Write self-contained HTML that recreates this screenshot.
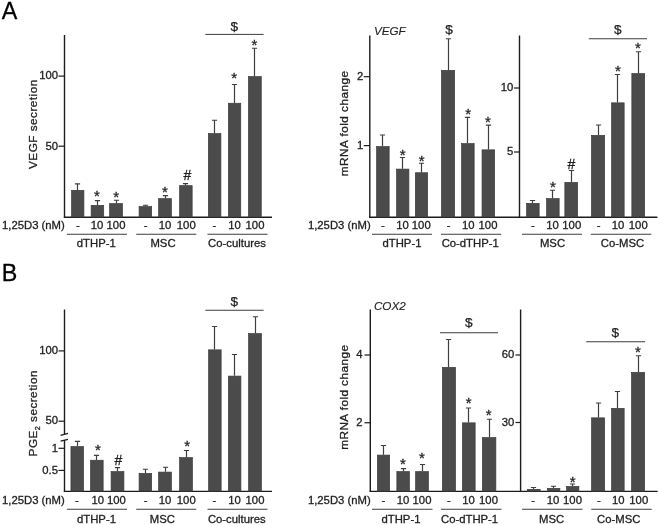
<!DOCTYPE html>
<html><head><meta charset="utf-8"><title>Figure</title>
<style>
html,body{margin:0;padding:0;background:#fff;}
body{width:660px;height:525px;overflow:hidden;}
svg{display:block;will-change:transform;filter:grayscale(1);}
svg text{font-family:"Liberation Sans",sans-serif;fill:#222;stroke:#222;stroke-width:0.3px;}
</style></head><body>
<svg width="660" height="525" viewBox="0 0 660 525">
<rect width="660" height="525" fill="#fff"/>
<text x="1.85" y="18.70" font-size="23.3" text-anchor="start" style="fill:#000;stroke:#000">A</text>
<text x="1.80" y="281.40" font-size="23.3" text-anchor="start" style="fill:#000;stroke:#000">B</text>
<line x1="64.50" y1="35.00" x2="64.50" y2="217.90" stroke="#1c1c1c" stroke-width="1.4"/>
<line x1="63.85" y1="217.25" x2="272.00" y2="217.25" stroke="#1c1c1c" stroke-width="1.4"/>
<line x1="58.50" y1="76.10" x2="64.50" y2="76.10" stroke="#1c1c1c" stroke-width="1.2"/>
<text x="58.00" y="79.30" font-size="11.3" text-anchor="end" >100</text>
<line x1="58.50" y1="146.20" x2="64.50" y2="146.20" stroke="#1c1c1c" stroke-width="1.2"/>
<text x="58.00" y="149.50" font-size="11.3" text-anchor="end" >50</text>
<rect x="71.60" y="190.35" width="12.30" height="26.70" fill="#4b4b4b" stroke="#3b3b3b" stroke-width="0.7"/>
<path d="M77.50 190.00V183.90M74.90 183.90H80.10" stroke="#3e3e3e" stroke-width="1.2" fill="none"/>
<rect x="91.15" y="205.35" width="12.55" height="11.70" fill="#4b4b4b" stroke="#3b3b3b" stroke-width="0.7"/>
<path d="M97.50 205.00V200.60M94.90 200.60H100.10" stroke="#3e3e3e" stroke-width="1.2" fill="none"/>
<rect x="109.65" y="203.60" width="12.75" height="13.45" fill="#4b4b4b" stroke="#3b3b3b" stroke-width="0.7"/>
<path d="M116.50 203.25V200.25M113.90 200.25H119.10" stroke="#3e3e3e" stroke-width="1.2" fill="none"/>
<rect x="139.10" y="206.60" width="12.55" height="10.45" fill="#4b4b4b" stroke="#3b3b3b" stroke-width="0.7"/>
<path d="M145.50 206.25V205.25M142.90 205.25H148.10" stroke="#3e3e3e" stroke-width="1.2" fill="none"/>
<rect x="158.60" y="198.65" width="12.80" height="18.40" fill="#4b4b4b" stroke="#3b3b3b" stroke-width="0.7"/>
<path d="M165.50 198.30V195.60M162.90 195.60H168.10" stroke="#3e3e3e" stroke-width="1.2" fill="none"/>
<rect x="179.60" y="185.65" width="12.55" height="31.40" fill="#4b4b4b" stroke="#3b3b3b" stroke-width="0.7"/>
<path d="M185.50 185.30V183.60M182.90 183.60H188.10" stroke="#3e3e3e" stroke-width="1.2" fill="none"/>
<rect x="208.35" y="133.60" width="12.55" height="83.45" fill="#4b4b4b" stroke="#3b3b3b" stroke-width="0.7"/>
<path d="M214.50 133.25V120.25M211.90 120.25H217.10" stroke="#3e3e3e" stroke-width="1.2" fill="none"/>
<rect x="228.35" y="103.25" width="12.40" height="113.80" fill="#4b4b4b" stroke="#3b3b3b" stroke-width="0.7"/>
<path d="M234.50 102.90V84.50M231.90 84.50H237.10" stroke="#3e3e3e" stroke-width="1.2" fill="none"/>
<rect x="248.45" y="76.60" width="12.80" height="140.45" fill="#4b4b4b" stroke="#3b3b3b" stroke-width="0.7"/>
<path d="M254.50 76.25V48.25M251.90 48.25H257.10" stroke="#3e3e3e" stroke-width="1.2" fill="none"/>
<text x="97.00" y="201.42" font-size="15" text-anchor="middle" style="stroke-width:0.28px">*</text>
<text x="116.25" y="201.52" font-size="15" text-anchor="middle" style="stroke-width:0.28px">*</text>
<text x="165.00" y="196.92" font-size="15" text-anchor="middle" style="stroke-width:0.28px">*</text>
<text x="187.50" y="179.88" font-size="14" text-anchor="middle" style="stroke-width:0.3px">#</text>
<text x="234.05" y="83.42" font-size="15" text-anchor="middle" style="stroke-width:0.28px">*</text>
<text x="254.50" y="49.52" font-size="15" text-anchor="middle" style="stroke-width:0.28px">*</text>
<text x="234.20" y="31.06" font-size="13.6" text-anchor="middle" style="stroke-width:0.25px">$</text>
<line x1="205.30" y1="34.40" x2="263.60" y2="34.40" stroke="#3c3c3c" stroke-width="1.0"/>
<text transform="translate(36.7,124.13) rotate(-90)" font-size="11.8" text-anchor="middle" letter-spacing="0.463">VEGF secretion</text>
<text x="2.00" y="229.30" font-size="11.3" text-anchor="start" >1,25D3 (nM)</text>
<text x="307.90" y="229.30" font-size="11.3" text-anchor="start" >1,25D3 (nM)</text>
<text x="78.00" y="229.30" font-size="11.3" text-anchor="middle" >-</text>
<text x="97.00" y="229.30" font-size="11.3" text-anchor="middle" >10</text>
<text x="116.00" y="229.30" font-size="11.3" text-anchor="middle" >100</text>
<text x="145.75" y="229.30" font-size="11.3" text-anchor="middle" >-</text>
<text x="165.00" y="229.30" font-size="11.3" text-anchor="middle" >10</text>
<text x="186.25" y="229.30" font-size="11.3" text-anchor="middle" >100</text>
<text x="214.50" y="229.30" font-size="11.3" text-anchor="middle" >-</text>
<text x="234.50" y="229.30" font-size="11.3" text-anchor="middle" >10</text>
<text x="255.00" y="229.30" font-size="11.3" text-anchor="middle" >100</text>
<line x1="67.00" y1="234.25" x2="127.00" y2="234.25" stroke="#3c3c3c" stroke-width="1.0"/>
<line x1="136.25" y1="234.25" x2="196.25" y2="234.25" stroke="#3c3c3c" stroke-width="1.0"/>
<line x1="207.50" y1="234.25" x2="267.50" y2="234.25" stroke="#3c3c3c" stroke-width="1.0"/>
<text x="96.30" y="247.40" font-size="11.3" text-anchor="middle" >dTHP-1</text>
<text x="163.00" y="247.40" font-size="11.3" text-anchor="middle" >MSC</text>
<text x="237.00" y="247.40" font-size="11.3" text-anchor="middle" >Co-cultures</text>
<line x1="369.80" y1="35.50" x2="369.80" y2="217.90" stroke="#1c1c1c" stroke-width="1.4"/>
<line x1="369.10" y1="217.25" x2="657.40" y2="217.25" stroke="#1c1c1c" stroke-width="1.4"/>
<line x1="519.50" y1="35.50" x2="519.50" y2="217.90" stroke="#1c1c1c" stroke-width="1.4"/>
<line x1="363.75" y1="76.70" x2="369.80" y2="76.70" stroke="#1c1c1c" stroke-width="1.2"/>
<text x="363.40" y="80.20" font-size="11.3" text-anchor="end" >2</text>
<line x1="363.75" y1="145.60" x2="369.80" y2="145.60" stroke="#1c1c1c" stroke-width="1.2"/>
<text x="363.40" y="149.30" font-size="11.3" text-anchor="end" >1</text>
<line x1="514.00" y1="88.00" x2="519.50" y2="88.00" stroke="#1c1c1c" stroke-width="1.2"/>
<text x="513.40" y="90.60" font-size="11.3" text-anchor="end" >10</text>
<line x1="514.00" y1="152.00" x2="519.50" y2="152.00" stroke="#1c1c1c" stroke-width="1.2"/>
<text x="513.40" y="154.70" font-size="11.3" text-anchor="end" >5</text>
<text x="373.90" y="35.20" font-size="11.7" text-anchor="start" font-style="italic" style="stroke-width:0.12px">VEGF</text>
<rect x="376.60" y="146.60" width="12.55" height="70.45" fill="#4b4b4b" stroke="#3b3b3b" stroke-width="0.7"/>
<path d="M382.50 146.25V135.00M379.90 135.00H385.10" stroke="#3e3e3e" stroke-width="1.2" fill="none"/>
<rect x="396.60" y="169.10" width="12.30" height="47.95" fill="#4b4b4b" stroke="#3b3b3b" stroke-width="0.7"/>
<path d="M402.50 168.75V157.50M399.90 157.50H405.10" stroke="#3e3e3e" stroke-width="1.2" fill="none"/>
<rect x="415.35" y="172.75" width="12.30" height="44.30" fill="#4b4b4b" stroke="#3b3b3b" stroke-width="0.7"/>
<path d="M421.50 172.40V163.25M418.90 163.25H424.10" stroke="#3e3e3e" stroke-width="1.2" fill="none"/>
<rect x="441.45" y="70.35" width="13.20" height="146.70" fill="#4b4b4b" stroke="#3b3b3b" stroke-width="0.7"/>
<path d="M448.50 70.00V38.75M445.90 38.75H451.10" stroke="#3e3e3e" stroke-width="1.2" fill="none"/>
<rect x="461.60" y="143.60" width="12.55" height="73.45" fill="#4b4b4b" stroke="#3b3b3b" stroke-width="0.7"/>
<path d="M467.50 143.25V117.40M464.90 117.40H470.10" stroke="#3e3e3e" stroke-width="1.2" fill="none"/>
<rect x="482.05" y="149.85" width="12.60" height="67.20" fill="#4b4b4b" stroke="#3b3b3b" stroke-width="0.7"/>
<path d="M488.50 149.50V125.20M485.90 125.20H491.10" stroke="#3e3e3e" stroke-width="1.2" fill="none"/>
<rect x="526.60" y="203.35" width="12.55" height="13.70" fill="#4b4b4b" stroke="#3b3b3b" stroke-width="0.7"/>
<path d="M532.50 203.00V200.50M529.90 200.50H535.10" stroke="#3e3e3e" stroke-width="1.2" fill="none"/>
<rect x="546.60" y="198.60" width="12.55" height="18.45" fill="#4b4b4b" stroke="#3b3b3b" stroke-width="0.7"/>
<path d="M552.50 198.25V190.25M549.90 190.25H555.10" stroke="#3e3e3e" stroke-width="1.2" fill="none"/>
<rect x="564.85" y="182.35" width="12.80" height="34.70" fill="#4b4b4b" stroke="#3b3b3b" stroke-width="0.7"/>
<path d="M571.50 182.00V170.50M568.90 170.50H574.10" stroke="#3e3e3e" stroke-width="1.2" fill="none"/>
<rect x="591.45" y="135.35" width="13.20" height="81.70" fill="#4b4b4b" stroke="#3b3b3b" stroke-width="0.7"/>
<path d="M598.50 135.00V125.00M595.90 125.00H601.10" stroke="#3e3e3e" stroke-width="1.2" fill="none"/>
<rect x="611.60" y="102.85" width="12.55" height="114.20" fill="#4b4b4b" stroke="#3b3b3b" stroke-width="0.7"/>
<path d="M617.50 102.50V74.50M614.90 74.50H620.10" stroke="#3e3e3e" stroke-width="1.2" fill="none"/>
<rect x="631.85" y="73.60" width="12.80" height="143.45" fill="#4b4b4b" stroke="#3b3b3b" stroke-width="0.7"/>
<path d="M638.50 73.25V51.75M635.90 51.75H641.10" stroke="#3e3e3e" stroke-width="1.2" fill="none"/>
<text transform="translate(348.2,123.33) rotate(-90)" font-size="11.8" text-anchor="middle" letter-spacing="0.461">mRNA fold change</text>
<text x="383.00" y="229.30" font-size="11.3" text-anchor="middle" >-</text>
<text x="402.50" y="229.30" font-size="11.3" text-anchor="middle" >10</text>
<text x="421.25" y="229.30" font-size="11.3" text-anchor="middle" >100</text>
<text x="448.75" y="229.30" font-size="11.3" text-anchor="middle" >-</text>
<text x="468.25" y="229.30" font-size="11.3" text-anchor="middle" >10</text>
<text x="488.00" y="229.30" font-size="11.3" text-anchor="middle" >100</text>
<text x="533.00" y="229.30" font-size="11.3" text-anchor="middle" >-</text>
<text x="552.50" y="229.30" font-size="11.3" text-anchor="middle" >10</text>
<text x="571.75" y="229.30" font-size="11.3" text-anchor="middle" >100</text>
<text x="598.75" y="229.30" font-size="11.3" text-anchor="middle" >-</text>
<text x="618.00" y="229.30" font-size="11.3" text-anchor="middle" >10</text>
<text x="638.25" y="229.30" font-size="11.3" text-anchor="middle" >100</text>
<line x1="372.00" y1="234.25" x2="432.00" y2="234.25" stroke="#3c3c3c" stroke-width="1.0"/>
<line x1="441.00" y1="234.25" x2="501.25" y2="234.25" stroke="#3c3c3c" stroke-width="1.0"/>
<line x1="522.00" y1="234.25" x2="582.00" y2="234.25" stroke="#3c3c3c" stroke-width="1.0"/>
<line x1="590.75" y1="234.25" x2="651.25" y2="234.25" stroke="#3c3c3c" stroke-width="1.0"/>
<text x="402.00" y="247.40" font-size="11.3" text-anchor="middle" >dTHP-1</text>
<text x="470.20" y="247.40" font-size="11.3" text-anchor="middle" >Co-dTHP-1</text>
<text x="552.50" y="247.40" font-size="11.3" text-anchor="middle" >MSC</text>
<text x="622.50" y="247.40" font-size="11.3" text-anchor="middle" >Co-MSC</text>
<text x="449.00" y="33.96" font-size="13.6" text-anchor="middle" style="stroke-width:0.25px">$</text>
<text x="617.75" y="34.26" font-size="13.6" text-anchor="middle" style="stroke-width:0.25px">$</text>
<line x1="588.75" y1="38.75" x2="647.00" y2="38.75" stroke="#3c3c3c" stroke-width="1.0"/>
<text x="402.70" y="159.62" font-size="15" text-anchor="middle" style="stroke-width:0.28px">*</text>
<text x="421.70" y="165.72" font-size="15" text-anchor="middle" style="stroke-width:0.28px">*</text>
<text x="468.05" y="119.22" font-size="15" text-anchor="middle" style="stroke-width:0.28px">*</text>
<text x="487.90" y="127.42" font-size="15" text-anchor="middle" style="stroke-width:0.28px">*</text>
<text x="553.00" y="192.32" font-size="15" text-anchor="middle" style="stroke-width:0.28px">*</text>
<text x="571.50" y="169.08" font-size="14" text-anchor="middle" style="stroke-width:0.3px">#</text>
<text x="617.80" y="75.72" font-size="15" text-anchor="middle" style="stroke-width:0.28px">*</text>
<text x="637.90" y="53.22" font-size="15" text-anchor="middle" style="stroke-width:0.28px">*</text>
<line x1="64.50" y1="309.50" x2="64.50" y2="434.50" stroke="#1c1c1c" stroke-width="1.4"/>
<line x1="64.50" y1="440.00" x2="64.50" y2="492.05" stroke="#1c1c1c" stroke-width="1.4"/>
<line x1="60.60" y1="435.30" x2="68.00" y2="433.40" stroke="#1c1c1c" stroke-width="1.2"/>
<line x1="60.60" y1="441.20" x2="68.00" y2="439.30" stroke="#1c1c1c" stroke-width="1.2"/>
<line x1="63.85" y1="491.40" x2="272.00" y2="491.40" stroke="#1c1c1c" stroke-width="1.4"/>
<line x1="58.50" y1="350.90" x2="64.50" y2="350.90" stroke="#1c1c1c" stroke-width="1.2"/>
<text x="58.00" y="354.00" font-size="11.3" text-anchor="end" >100</text>
<line x1="58.50" y1="421.20" x2="64.50" y2="421.20" stroke="#1c1c1c" stroke-width="1.2"/>
<text x="58.00" y="424.40" font-size="11.3" text-anchor="end" >50</text>
<line x1="58.50" y1="448.30" x2="64.50" y2="448.30" stroke="#1c1c1c" stroke-width="1.2"/>
<text x="58.00" y="452.10" font-size="11.3" text-anchor="end" >1</text>
<line x1="58.50" y1="470.40" x2="64.50" y2="470.40" stroke="#1c1c1c" stroke-width="1.2"/>
<text x="58.00" y="474.20" font-size="11.3" text-anchor="end" >0.5</text>
<rect x="70.95" y="446.60" width="12.60" height="44.55" fill="#4b4b4b" stroke="#3b3b3b" stroke-width="0.7"/>
<path d="M77.50 446.25V441.40M74.90 441.40H80.10" stroke="#3e3e3e" stroke-width="1.2" fill="none"/>
<rect x="90.55" y="460.25" width="12.60" height="30.90" fill="#4b4b4b" stroke="#3b3b3b" stroke-width="0.7"/>
<path d="M96.50 459.90V455.30M93.90 455.30H99.10" stroke="#3e3e3e" stroke-width="1.2" fill="none"/>
<rect x="111.10" y="471.60" width="12.80" height="19.55" fill="#4b4b4b" stroke="#3b3b3b" stroke-width="0.7"/>
<path d="M117.50 471.25V467.70M114.90 467.70H120.10" stroke="#3e3e3e" stroke-width="1.2" fill="none"/>
<rect x="139.10" y="473.35" width="12.55" height="17.80" fill="#4b4b4b" stroke="#3b3b3b" stroke-width="0.7"/>
<path d="M145.50 473.00V469.25M142.90 469.25H148.10" stroke="#3e3e3e" stroke-width="1.2" fill="none"/>
<rect x="158.60" y="472.10" width="12.80" height="19.05" fill="#4b4b4b" stroke="#3b3b3b" stroke-width="0.7"/>
<path d="M165.50 471.75V467.25M162.90 467.25H168.10" stroke="#3e3e3e" stroke-width="1.2" fill="none"/>
<rect x="179.60" y="457.60" width="12.80" height="33.55" fill="#4b4b4b" stroke="#3b3b3b" stroke-width="0.7"/>
<path d="M186.50 457.25V450.50M183.90 450.50H189.10" stroke="#3e3e3e" stroke-width="1.2" fill="none"/>
<rect x="208.60" y="349.85" width="12.55" height="141.30" fill="#4b4b4b" stroke="#3b3b3b" stroke-width="0.7"/>
<path d="M214.50 349.50V326.50M211.90 326.50H217.10" stroke="#3e3e3e" stroke-width="1.2" fill="none"/>
<rect x="228.35" y="376.10" width="12.55" height="115.05" fill="#4b4b4b" stroke="#3b3b3b" stroke-width="0.7"/>
<path d="M234.50 375.75V354.50M231.90 354.50H237.10" stroke="#3e3e3e" stroke-width="1.2" fill="none"/>
<rect x="248.60" y="333.60" width="12.80" height="157.55" fill="#4b4b4b" stroke="#3b3b3b" stroke-width="0.7"/>
<path d="M255.50 333.25V316.75M252.90 316.75H258.10" stroke="#3e3e3e" stroke-width="1.2" fill="none"/>
<text x="98.00" y="455.42" font-size="15" text-anchor="middle" style="stroke-width:0.28px">*</text>
<text x="118.40" y="465.38" font-size="14" text-anchor="middle" style="stroke-width:0.3px">#</text>
<text x="187.10" y="451.02" font-size="15" text-anchor="middle" style="stroke-width:0.28px">*</text>
<text x="234.20" y="306.36" font-size="13.6" text-anchor="middle" style="stroke-width:0.25px">$</text>
<line x1="205.30" y1="310.25" x2="263.60" y2="310.25" stroke="#3c3c3c" stroke-width="1.0"/>
<text transform="translate(36.9,413.22) rotate(-90)" font-size="11.8" text-anchor="middle" letter-spacing="0.450">PGE<tspan font-size="7.2" dy="2.6">2</tspan><tspan dy="-2.6"> secretion</tspan></text>
<text x="2.00" y="503.75" font-size="11.3" text-anchor="start" >1,25D3 (nM)</text>
<text x="307.90" y="503.75" font-size="11.3" text-anchor="start" >1,25D3 (nM)</text>
<text x="77.00" y="503.75" font-size="11.3" text-anchor="middle" >-</text>
<text x="97.70" y="503.75" font-size="11.3" text-anchor="middle" >10</text>
<text x="116.40" y="503.75" font-size="11.3" text-anchor="middle" >100</text>
<text x="145.75" y="503.75" font-size="11.3" text-anchor="middle" >-</text>
<text x="165.00" y="503.75" font-size="11.3" text-anchor="middle" >10</text>
<text x="186.25" y="503.75" font-size="11.3" text-anchor="middle" >100</text>
<text x="214.50" y="503.75" font-size="11.3" text-anchor="middle" >-</text>
<text x="234.50" y="503.75" font-size="11.3" text-anchor="middle" >10</text>
<text x="255.00" y="503.75" font-size="11.3" text-anchor="middle" >100</text>
<line x1="67.00" y1="509.25" x2="127.00" y2="509.25" stroke="#3c3c3c" stroke-width="1.0"/>
<line x1="136.25" y1="509.25" x2="196.25" y2="509.25" stroke="#3c3c3c" stroke-width="1.0"/>
<line x1="207.50" y1="509.25" x2="267.50" y2="509.25" stroke="#3c3c3c" stroke-width="1.0"/>
<text x="96.50" y="522.60" font-size="11.3" text-anchor="middle" >dTHP-1</text>
<text x="162.40" y="522.60" font-size="11.3" text-anchor="middle" >MSC</text>
<text x="236.80" y="522.60" font-size="11.3" text-anchor="middle" >Co-cultures</text>
<line x1="370.30" y1="309.50" x2="370.30" y2="492.05" stroke="#1c1c1c" stroke-width="1.4"/>
<line x1="369.60" y1="491.40" x2="657.70" y2="491.40" stroke="#1c1c1c" stroke-width="1.4"/>
<line x1="520.60" y1="309.50" x2="520.60" y2="492.05" stroke="#1c1c1c" stroke-width="1.4"/>
<line x1="364.50" y1="355.00" x2="370.30" y2="355.00" stroke="#1c1c1c" stroke-width="1.2"/>
<text x="362.50" y="357.90" font-size="11.3" text-anchor="end" >4</text>
<line x1="364.50" y1="422.75" x2="370.30" y2="422.75" stroke="#1c1c1c" stroke-width="1.2"/>
<text x="362.50" y="425.70" font-size="11.3" text-anchor="end" >2</text>
<line x1="515.50" y1="355.00" x2="520.60" y2="355.00" stroke="#1c1c1c" stroke-width="1.2"/>
<text x="514.25" y="358.10" font-size="11.3" text-anchor="end" >60</text>
<line x1="515.50" y1="422.50" x2="520.60" y2="422.50" stroke="#1c1c1c" stroke-width="1.2"/>
<text x="514.25" y="425.90" font-size="11.3" text-anchor="end" >30</text>
<text x="373.90" y="309.60" font-size="11.7" text-anchor="start" font-style="italic" style="stroke-width:0.12px">COX2</text>
<rect x="377.35" y="455.10" width="12.30" height="36.05" fill="#4b4b4b" stroke="#3b3b3b" stroke-width="0.7"/>
<path d="M383.50 454.75V445.50M380.90 445.50H386.10" stroke="#3e3e3e" stroke-width="1.2" fill="none"/>
<rect x="396.85" y="471.60" width="12.55" height="19.55" fill="#4b4b4b" stroke="#3b3b3b" stroke-width="0.7"/>
<path d="M403.50 471.25V468.70M400.90 468.70H406.10" stroke="#3e3e3e" stroke-width="1.2" fill="none"/>
<rect x="415.65" y="471.60" width="12.75" height="19.55" fill="#4b4b4b" stroke="#3b3b3b" stroke-width="0.7"/>
<path d="M422.50 471.25V464.50M419.90 464.50H425.10" stroke="#3e3e3e" stroke-width="1.2" fill="none"/>
<rect x="442.35" y="367.35" width="13.15" height="123.80" fill="#4b4b4b" stroke="#3b3b3b" stroke-width="0.7"/>
<path d="M448.50 367.00V339.50M445.90 339.50H451.10" stroke="#3e3e3e" stroke-width="1.2" fill="none"/>
<rect x="462.35" y="422.85" width="12.80" height="68.30" fill="#4b4b4b" stroke="#3b3b3b" stroke-width="0.7"/>
<path d="M468.50 422.50V408.00M465.90 408.00H471.10" stroke="#3e3e3e" stroke-width="1.2" fill="none"/>
<rect x="482.35" y="437.60" width="13.50" height="53.55" fill="#4b4b4b" stroke="#3b3b3b" stroke-width="0.7"/>
<path d="M489.50 437.25V419.25M486.90 419.25H492.10" stroke="#3e3e3e" stroke-width="1.2" fill="none"/>
<rect x="527.35" y="489.35" width="12.80" height="1.80" fill="#4b4b4b" stroke="#3b3b3b" stroke-width="0.7"/>
<path d="M533.50 489.00V487.50M530.90 487.50H536.10" stroke="#3e3e3e" stroke-width="1.2" fill="none"/>
<rect x="547.35" y="488.35" width="12.55" height="2.80" fill="#4b4b4b" stroke="#3b3b3b" stroke-width="0.7"/>
<path d="M553.50 488.00V486.25M550.90 486.25H556.10" stroke="#3e3e3e" stroke-width="1.2" fill="none"/>
<rect x="566.60" y="486.45" width="12.30" height="4.70" fill="#4b4b4b" stroke="#3b3b3b" stroke-width="0.7"/>
<path d="M572.50 486.10V484.00M569.90 484.00H575.10" stroke="#3e3e3e" stroke-width="1.2" fill="none"/>
<rect x="591.60" y="417.85" width="13.05" height="73.30" fill="#4b4b4b" stroke="#3b3b3b" stroke-width="0.7"/>
<path d="M598.50 417.50V403.00M595.90 403.00H601.10" stroke="#3e3e3e" stroke-width="1.2" fill="none"/>
<rect x="611.60" y="408.35" width="12.55" height="82.80" fill="#4b4b4b" stroke="#3b3b3b" stroke-width="0.7"/>
<path d="M617.50 408.00V391.50M614.90 391.50H620.10" stroke="#3e3e3e" stroke-width="1.2" fill="none"/>
<rect x="631.60" y="372.35" width="13.05" height="118.80" fill="#4b4b4b" stroke="#3b3b3b" stroke-width="0.7"/>
<path d="M638.50 372.00V355.75M635.90 355.75H641.10" stroke="#3e3e3e" stroke-width="1.2" fill="none"/>
<text transform="translate(348.2,397.21) rotate(-90)" font-size="11.8" text-anchor="middle" letter-spacing="0.427">mRNA fold change</text>
<text x="383.50" y="503.75" font-size="11.3" text-anchor="middle" >-</text>
<text x="403.00" y="503.75" font-size="11.3" text-anchor="middle" >10</text>
<text x="422.00" y="503.75" font-size="11.3" text-anchor="middle" >100</text>
<text x="449.00" y="503.75" font-size="11.3" text-anchor="middle" >-</text>
<text x="468.50" y="503.75" font-size="11.3" text-anchor="middle" >10</text>
<text x="488.50" y="503.75" font-size="11.3" text-anchor="middle" >100</text>
<text x="533.25" y="503.75" font-size="11.3" text-anchor="middle" >-</text>
<text x="553.00" y="503.75" font-size="11.3" text-anchor="middle" >10</text>
<text x="572.50" y="503.75" font-size="11.3" text-anchor="middle" >100</text>
<text x="599.00" y="503.75" font-size="11.3" text-anchor="middle" >-</text>
<text x="618.25" y="503.75" font-size="11.3" text-anchor="middle" >10</text>
<text x="638.75" y="503.75" font-size="11.3" text-anchor="middle" >100</text>
<line x1="372.00" y1="509.25" x2="432.50" y2="509.25" stroke="#3c3c3c" stroke-width="1.0"/>
<line x1="441.00" y1="509.25" x2="501.50" y2="509.25" stroke="#3c3c3c" stroke-width="1.0"/>
<line x1="522.00" y1="509.25" x2="582.50" y2="509.25" stroke="#3c3c3c" stroke-width="1.0"/>
<line x1="591.25" y1="509.25" x2="651.75" y2="509.25" stroke="#3c3c3c" stroke-width="1.0"/>
<text x="401.00" y="522.60" font-size="11.3" text-anchor="middle" >dTHP-1</text>
<text x="469.60" y="522.60" font-size="11.3" text-anchor="middle" >Co-dTHP-1</text>
<text x="551.60" y="522.60" font-size="11.3" text-anchor="middle" >MSC</text>
<text x="618.75" y="522.60" font-size="11.3" text-anchor="middle" >Co-MSC</text>
<text x="468.75" y="327.36" font-size="13.6" text-anchor="middle" style="stroke-width:0.25px">$</text>
<line x1="440.00" y1="332.75" x2="498.00" y2="332.75" stroke="#3c3c3c" stroke-width="1.0"/>
<text x="615.25" y="336.56" font-size="13.6" text-anchor="middle" style="stroke-width:0.25px">$</text>
<line x1="586.25" y1="341.75" x2="645.00" y2="341.75" stroke="#3c3c3c" stroke-width="1.0"/>
<text x="403.00" y="468.52" font-size="15" text-anchor="middle" style="stroke-width:0.28px">*</text>
<text x="422.00" y="463.12" font-size="15" text-anchor="middle" style="stroke-width:0.28px">*</text>
<text x="468.75" y="407.92" font-size="15" text-anchor="middle" style="stroke-width:0.28px">*</text>
<text x="488.75" y="420.07" font-size="15" text-anchor="middle" style="stroke-width:0.28px">*</text>
<text x="572.60" y="486.52" font-size="15" text-anchor="middle" style="stroke-width:0.28px">*</text>
<text x="637.90" y="356.52" font-size="15" text-anchor="middle" style="stroke-width:0.28px">*</text>
</svg>
</body></html>
